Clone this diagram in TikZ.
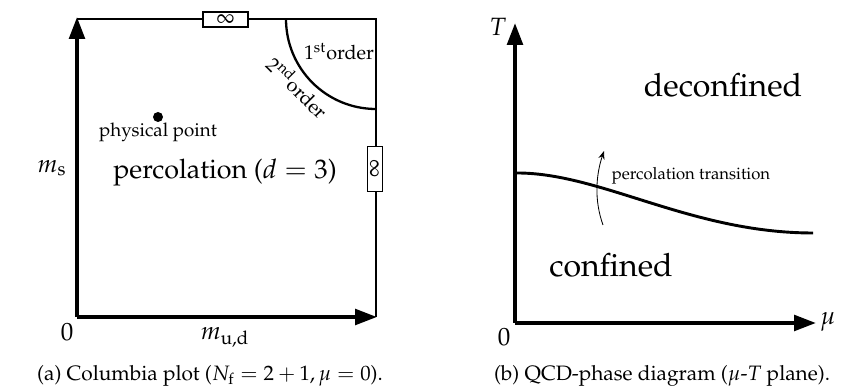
\documentclass[tikz,border=0pt]{standalone}
\usepackage[T1]{fontenc}
\usepackage{mathpazo}
\usetikzlibrary{arrows.meta}
\tikzset{
  thickaxis/.style={line width=1.9pt,-{Triangle[length=10.5pt,width=7.4pt]}},
  thinline/.style={line width=0.5pt},
  infbox/.style={draw,line width=0.5pt,fill=white,inner sep=0pt,minimum width=21.6pt,minimum height=7.2pt},
  lbl/.style={inner sep=0pt},
  orderlbl/.style={inner sep=0pt,font=\fontsize{9.5}{11}\selectfont},
  captext/.style={inner sep=0pt,font=\normalsize},
  bigphase/.style={inner sep=0pt,font=\fontsize{15.4}{18}\selectfont}
}
\begin{document}
\begin{tikzpicture}[x=0.48pt,y=-0.48pt]
\useasboundingbox (0,0) rectangle (856,387);
% ---------- left panel ----------
\coordinate (O1) at (77,317);
\coordinate (Ytop1) at (77,17);
\coordinate (Xend1) at (377,317);
\coordinate (TL) at (77,19);
\coordinate (TR) at (376,19);
\coordinate (BR) at (376,317);
\coordinate (ArcA) at (286,19);
\draw[thinline] (TL) -- (TR) -- (BR);
\draw[line width=1.1pt] (ArcA) arc[start angle=180,end angle=90,radius=90];
\node[infbox] (inftop) at (225.5,19.5) {$\infty$};
\node[infbox,rotate=90] (infright) at (375,169) {$\infty$};
\draw[thickaxis] (O1) -- (Ytop1);
\draw[thickaxis] (O1) -- (Xend1);
\node[orderlbl] (first) at (339,52) {1\textsuperscript{st}order};
\node[orderlbl,rotate=-45] (second) at (298,87) {2\textsuperscript{nd}order};
\fill (158,117) circle[radius=5] coordinate (pp);
\node[lbl,font=\small] (phys) at (158,132) {physical point};
\node[lbl,font=\fontsize{12.9}{15}\selectfont] (perc) at (225,173) {percolation ($d=3$)};
\node[lbl,font=\large] (ms) at (52,168) {$m_\mathrm{s}$};
\node[lbl,font=\large] (zero1) at (67,332) {$0$};
\node[lbl,font=\large] (mud) at (225,337) {$m_\mathrm{u,d}$};
\node[captext] (capa) at (210,376) {(a) Columbia plot ($N_\mathrm{f}=2+1, \mu=0$).};
% ---------- right panel ----------
\coordinate (O2) at (515,323);
\coordinate (Ytop2) at (515,23);
\coordinate (Xend2) at (816,323);
\draw[thickaxis] (O2) -- (Ytop2);
\draw[thickaxis] (O2) -- (Xend2);
\coordinate (C0) at (515,173);
\coordinate (C1) at (813,233);
\draw[line width=1.4pt] (C0) .. controls (600,172) and (690,233) .. (C1);
\coordinate (A0) at (603,225);
\coordinate (A1) at (604,151);
\draw[line width=0.4pt,-{Stealth[length=4pt,width=3pt]}] (A0) .. controls (594,200) and (596,175) .. (A1);
\node[lbl,font=\large] (T) at (498,27) {$T$};
\node[lbl,font=\large] (mu) at (828,322) {$\mu$};
\node[lbl,font=\large] (zero2) at (504,337) {$0$};
\node[bigphase] (dec) at (723,85) {deconfined};
\node[bigphase] (conf) at (611,265) {confined};
\node[lbl,font=\footnotesize] (pt) at (691,176) {percolation transition};
\node[captext] (capb) at (662,376) {(b) QCD-phase diagram ($\mu$-$T$ plane).};
\end{tikzpicture}
\end{document}
